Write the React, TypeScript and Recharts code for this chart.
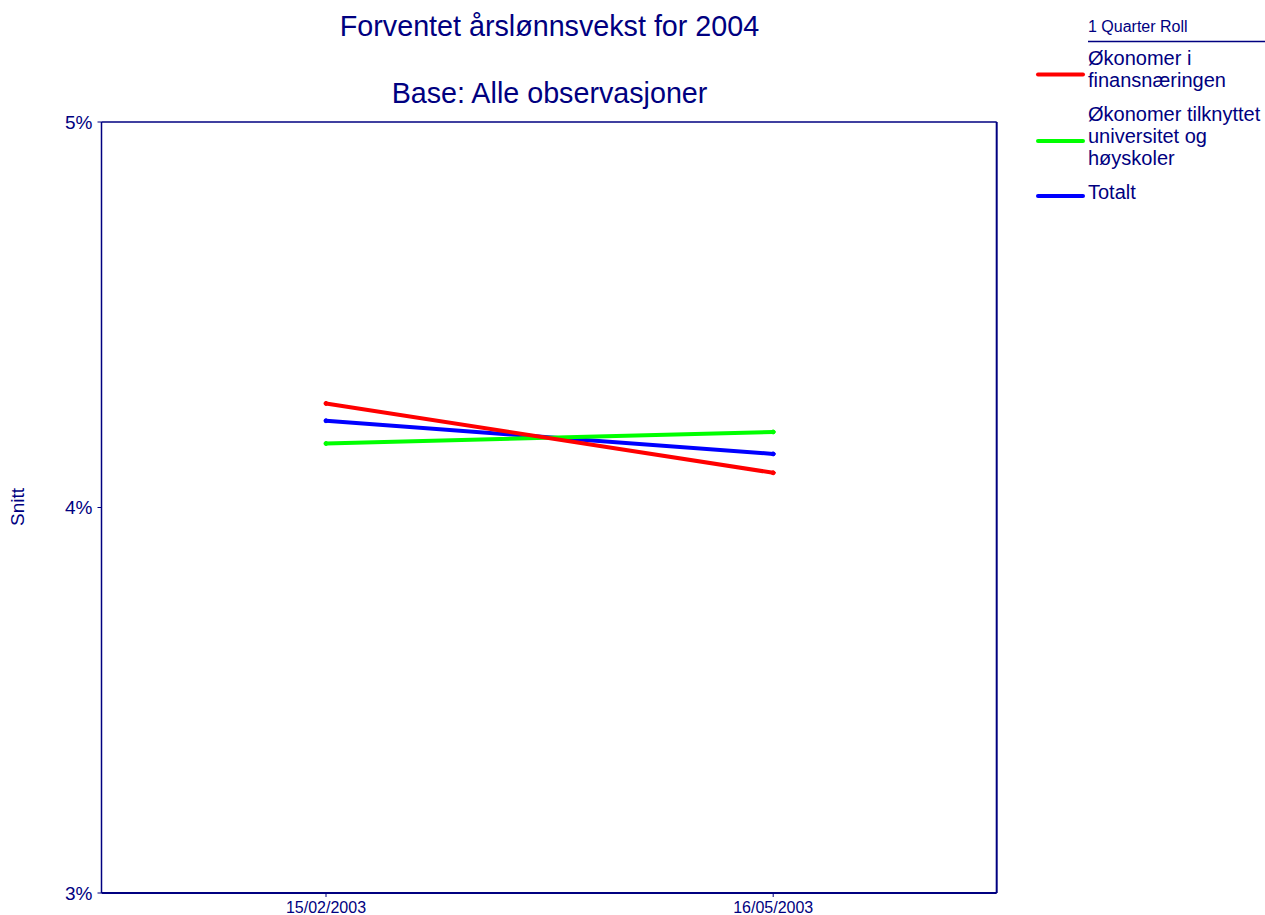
import React from "react";
import { LineChart, Line, XAxis, YAxis } from "recharts";

const categories = ["15/02/2003", "16/05/2003"];
const finans = [4.27, 4.09];
const universitet = [4.166, 4.196];
const totalt = [4.225, 4.139];
const yTicks = [3, 4, 5];

const seriesNames = {
  finans: ["Økonomer i", "finansnæringen"],
  universitet: ["Økonomer tilknyttet", "universitet og", "høyskoler"],
  totalt: ["Totalt"],
};

const data = categories.map((c, i) => ({
  date: c,
  finans: finans[i],
  universitet: universitet[i],
  totalt: totalt[i],
}));

const NAVY = "#000080";
const FONT = "'Liberation Sans', Arial, sans-serif";

export default function App() {
  const legendItems = [
    { key: "finans", color: "#ff0000", lines: seriesNames.finans, top: 65, lineY: 74.5 },
    { key: "universitet", color: "#00ff00", lines: seriesNames.universitet, top: 121, lineY: 141 },
    { key: "totalt", color: "#0000ff", lines: seriesNames.totalt, top: 199, lineY: 196 },
  ];
  return (
    <div style={{ position: "absolute", left: 0, top: 0, width: 1265, height: 915, background: "#fff", fontFamily: FONT }}>
      <LineChart
        width={1265}
        height={915}
        data={data}
        margin={{ top: 121, right: 267.3, bottom: 0, left: 41.5 }}
      >
        <XAxis
          dataKey="date"
          xAxisId="bottom"
          height={22}
          padding={{ left: 224.5, right: 223.5 }}
          axisLine={{ stroke: NAVY, strokeWidth: 2 }}
          tickLine={{ stroke: NAVY, strokeWidth: 1 }}
          tickSize={4}
          tickMargin={5}
          tick={{ fill: NAVY, fontSize: 16, fontFamily: FONT }}
        />
        <XAxis
          dataKey="date"
          xAxisId="top"
          orientation="top"
          height={1}
          padding={{ left: 224.5, right: 223.5 }}
          axisLine={{ stroke: NAVY, strokeWidth: 1.5 }}
          tickLine={false}
          tick={false}
        />
        <YAxis
          yAxisId="left"
          width={60}
          domain={[3, 5]}
          ticks={yTicks}
          tickFormatter={(v) => `${v}%`}
          axisLine={{ stroke: NAVY, strokeWidth: 1.5 }}
          tickLine={{ stroke: NAVY, strokeWidth: 1 }}
          tickSize={4}
          tickMargin={5}
          tick={{ fill: NAVY, fontSize: 19, fontFamily: FONT }}
        />
        <YAxis
          yAxisId="right"
          orientation="right"
          width={1}
          domain={[3, 5]}
          axisLine={{ stroke: NAVY, strokeWidth: 2 }}
          tickLine={false}
          tick={false}
        />
        <Line
          xAxisId="bottom"
          yAxisId="left"
          type="linear"
          dataKey="totalt"
          stroke="#0000ff"
          strokeWidth={4}
          strokeLinecap="round"
          dot={{ r: 2, fill: "#0000ff", stroke: "#0000ff", strokeWidth: 1 }}
          isAnimationActive={false}
        />
        <Line
          xAxisId="bottom"
          yAxisId="left"
          type="linear"
          dataKey="universitet"
          stroke="#00ff00"
          strokeWidth={4}
          strokeLinecap="round"
          dot={{ r: 2, fill: "#00ff00", stroke: "#00ff00", strokeWidth: 1 }}
          isAnimationActive={false}
        />
        <Line
          xAxisId="bottom"
          yAxisId="left"
          type="linear"
          dataKey="finans"
          stroke="#ff0000"
          strokeWidth={4}
          strokeLinecap="round"
          dot={{ r: 2, fill: "#ff0000", stroke: "#ff0000", strokeWidth: 1 }}
          isAnimationActive={false}
        />
      </LineChart>
      <svg
        width={1265}
        height={915}
        style={{ position: "absolute", left: 0, top: 0, pointerEvents: "none" }}
      >
        <text x={549.5} y={36} textAnchor="middle" fill={NAVY} fontSize={28.7} fontFamily={FONT}>
          Forventet årslønnsvekst for 2004
        </text>
        <text x={549.5} y={103} textAnchor="middle" fill={NAVY} fontSize={28.7} fontFamily={FONT}>
          Base: Alle observasjoner
        </text>
        <text
          x={0}
          y={0}
          transform="translate(24 507) rotate(-90)"
          textAnchor="middle"
          fill={NAVY}
          fontSize={19}
          fontFamily={FONT}
        >
          Snitt
        </text>
        <text x={1088} y={31.5} fill={NAVY} fontSize={16} fontFamily={FONT}>
          1 Quarter Roll
        </text>
        <line x1={1088} x2={1265} y1={41.5} y2={41.5} stroke={NAVY} strokeWidth={1.5} />
        {legendItems.map((it) => (
          <g key={it.key}>
            <line x1={1038} x2={1083} y1={it.lineY} y2={it.lineY} stroke={it.color} strokeWidth={4} strokeLinecap="round" />
            {it.lines.map((t, i) => (
              <text key={i} x={1088} y={it.top + i * 22} fill={NAVY} fontSize={20} fontFamily={FONT}>
                {t}
              </text>
            ))}
          </g>
        ))}
      </svg>
    </div>
  );
}
